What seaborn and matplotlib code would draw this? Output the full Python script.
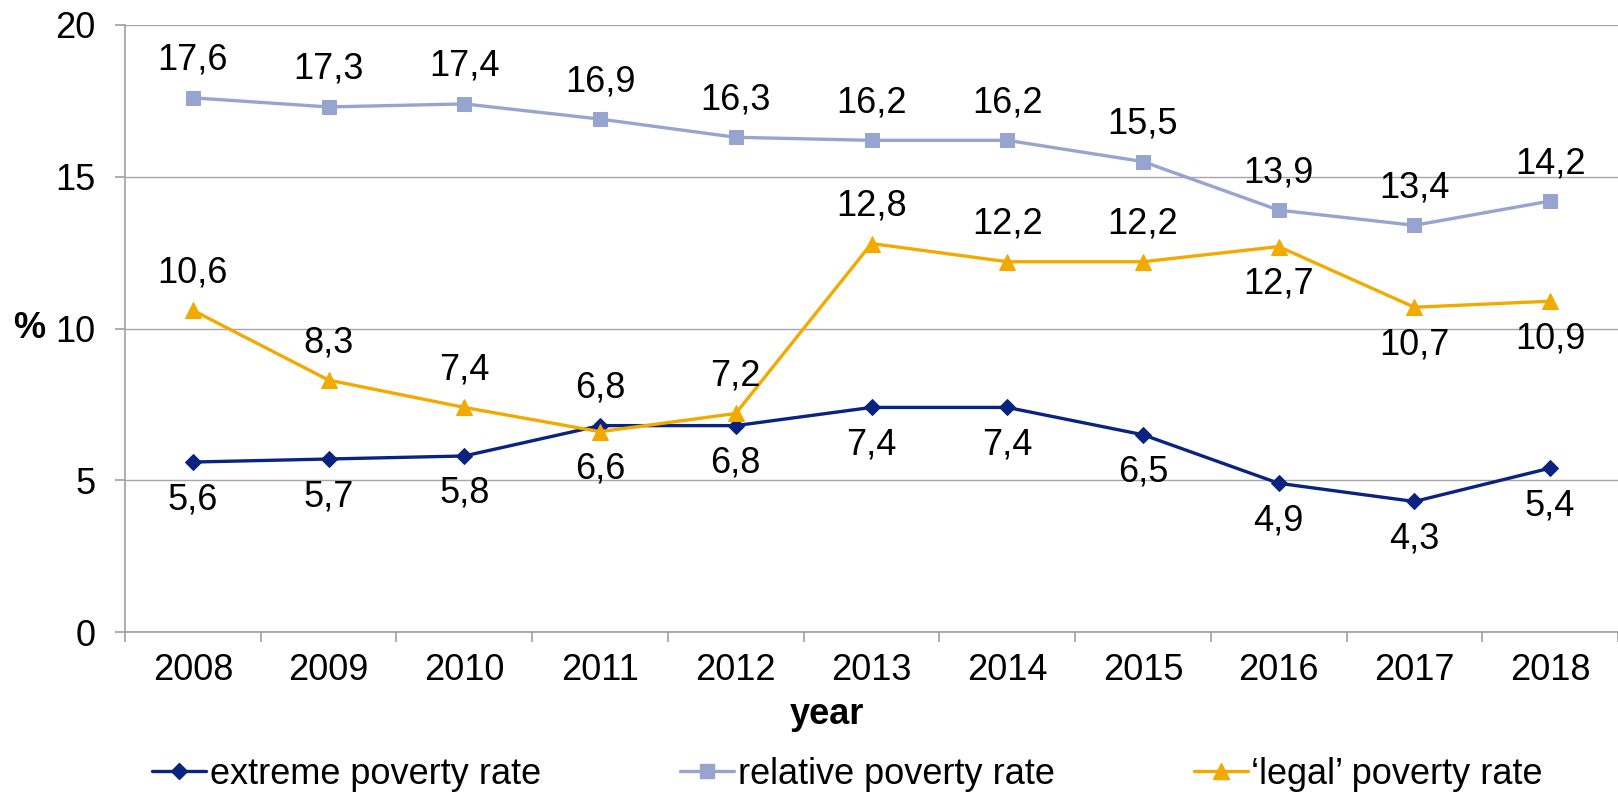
import numpy as np
import pandas as pd
import matplotlib
matplotlib.use("Agg")
import matplotlib.pyplot as plt
import seaborn as sns
from matplotlib.lines import Line2D

years = ["2008", "2009", "2010", "2011", "2012", "2013", "2014", "2015", "2016", "2017", "2018"]
extreme = [5.6, 5.7, 5.8, 6.8, 6.8, 7.4, 7.4, 6.5, 4.9, 4.3, 5.4]
relative = [17.6, 17.3, 17.4, 16.9, 16.3, 16.2, 16.2, 15.5, 13.9, 13.4, 14.2]
legal = [10.6, 8.3, 7.4, 6.6, 7.2, 12.8, 12.2, 12.2, 12.7, 10.7, 10.9]
series_names = ["extreme poverty rate", "relative poverty rate", "\u2018legal\u2019 poverty rate"]
y_ticks = [0, 5, 10, 15, 20]

sns.set_theme(style="white")
plt.rcParams["font.family"] = ["Liberation Sans", "DejaVu Sans"]
plt.rcParams["text.color"] = "black"
plt.rcParams["xtick.color"] = "black"
plt.rcParams["ytick.color"] = "black"

FS = 26
colors = ["#0B2380", "#97A4CF", "#F2AA00"]
markers = ["D", "s", "^"]
msizes = [8, 10, 11]
# label side for each point: +1 above, -1 below
sides = [
    [-1, -1, -1, 1, -1, -1, -1, -1, -1, -1, -1],
    [1] * 11,
    [1, 1, 1, -1, 1, 1, 1, 1, -1, -1, -1],
]

fig = plt.figure(figsize=(16.18, 7.94), dpi=100)
left_px, right_px = 125, 1618
ax = fig.add_axes([left_px / 1618, 162 / 794, (right_px - left_px) / 1618, (632 - 25) / 794])

xpos = np.arange(len(years))
data_all = [extreme, relative, legal]
for vals, c, m, ms, name in zip(data_all, colors, markers, msizes, series_names):
    df = pd.DataFrame({"x": xpos, "y": vals})
    sns.lineplot(data=df, x="x", y="y", ax=ax, color=c, marker=m, markersize=ms,
                 markeredgecolor=c, linewidth=2.4, label=name, legend=False, zorder=3)

for vals, sd in zip(data_all, sides):
    for i, (v, s) in enumerate(zip(vals, sd)):
        ax.annotate(f"{v:.1f}".replace(".", ","), (xpos[i], v), xytext=(0, 27 * s),
                    textcoords="offset points", ha="center", va="center",
                    fontsize=FS, color="black", zorder=5)

cat_w = (1629 - left_px) / 11
ax.set_xlim(-0.5, -0.5 + (right_px - left_px) / cat_w)
ax.set_ylim(0, 20)
ax.set_yticks(y_ticks)
ax.set_yticklabels([str(t) for t in y_ticks], fontsize=FS)
ax.set_xticks(xpos)
ax.set_xticklabels(years, fontsize=FS)
ax.set_xticks(np.arange(-0.5, len(years) + 0.5, 1), minor=True)
ax.tick_params(axis="x", which="major", length=0, pad=15)
ax.tick_params(axis="x", which="minor", length=7, width=1.2, color="#A0A0A0", direction="out", bottom=True)
ax.tick_params(axis="y", which="major", length=7, width=1.2, color="#A0A0A0", direction="out", left=True, pad=14)
ax.yaxis.grid(True, color="#A6A6A6", linewidth=1.0)
ax.xaxis.grid(False)
ax.set_axisbelow(True)
for sp in ["top", "right"]:
    ax.spines[sp].set_visible(False)
for sp in ["left", "bottom"]:
    ax.spines[sp].set_color("#A0A0A0")
    ax.spines[sp].set_linewidth(1.2)
ax.set_xlabel("")
ax.set_ylabel("")

fig.text(29 / 1618, 1 - 328 / 794, "%", fontsize=FS, fontweight="bold", ha="center", va="center")
fig.text(827 / 1618, 1 - 714 / 794, "year", fontsize=FS, fontweight="bold", ha="center", va="center")

handles = [Line2D([0], [0], color=c, marker=m, markersize=ms, linewidth=2.4, markeredgecolor=c)
           for c, m, ms in zip(colors, markers, msizes)]
fig.legend(handles, series_names, loc="center left", bbox_to_anchor=(152 / 1618, 1 - 774 / 794),
           ncol=3, frameon=False, fontsize=FS, handlelength=1.5, handletextpad=0.1,
           columnspacing=3.85, borderaxespad=0, borderpad=0)

fig.savefig("out.png", dpi=100)
